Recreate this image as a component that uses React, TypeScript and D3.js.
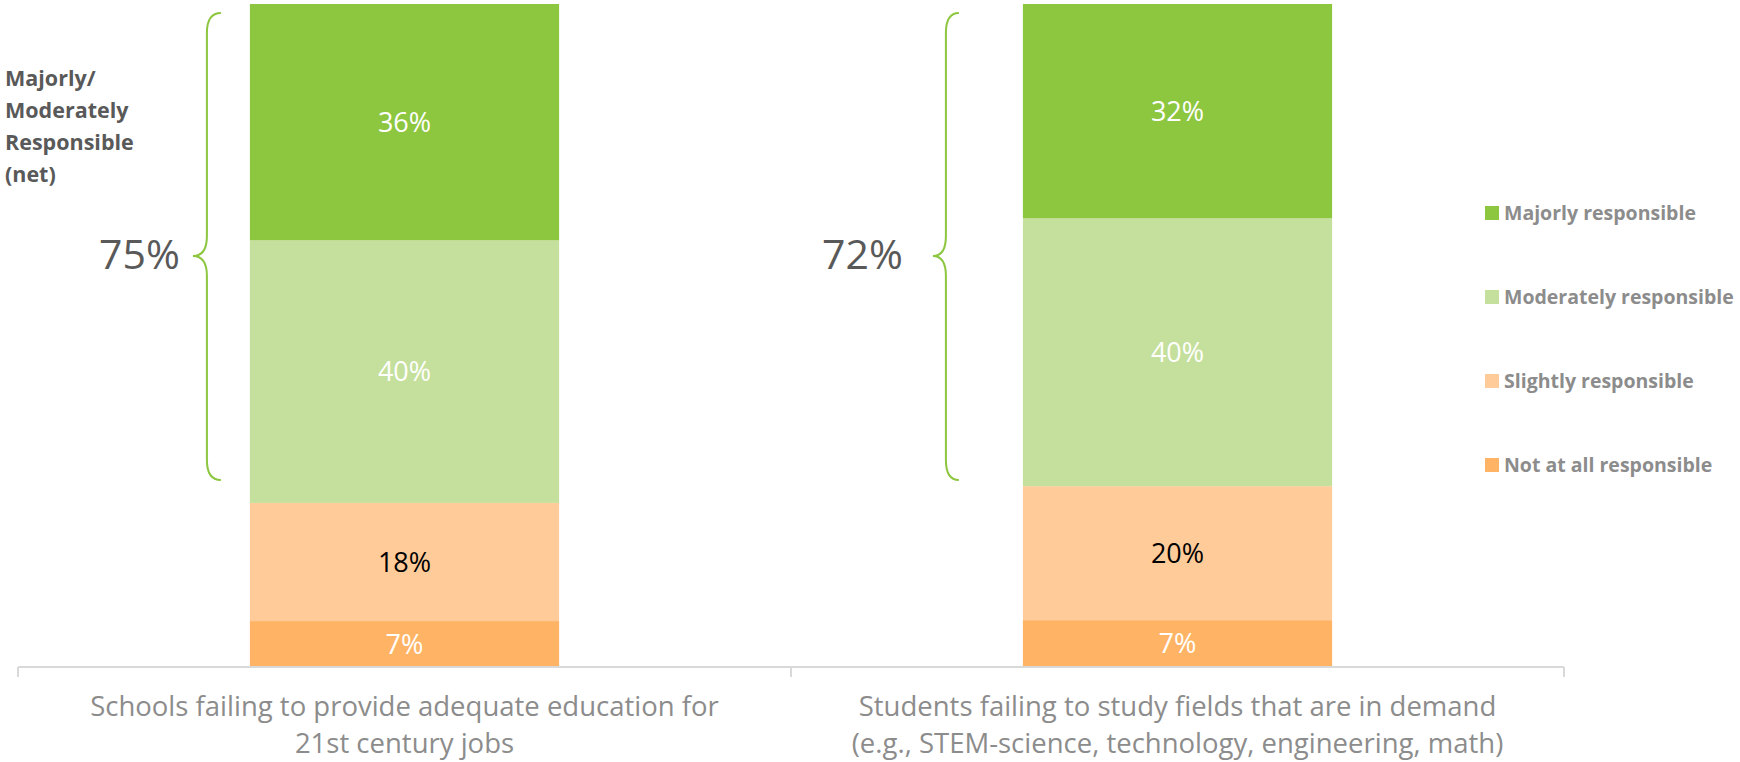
import React, { useEffect, useRef } from "react";
import * as d3 from "d3";

// data
const categories = ["schools", "students"];
const categoryLines = [
  ["Schools failing to provide adequate education for", "21st century jobs"],
  [
    "Students failing to study fields that are in demand",
    "(e.g., STEM-science, technology, engineering, math)",
  ],
];
const seriesKeys = ["notAtAll", "slightly", "moderately", "majorly"];
const seriesNames = [
  "Not at all responsible",
  "Slightly responsible",
  "Moderately responsible",
  "Majorly responsible",
];
const notAtAll = [7, 7];
const slightly = [18, 20];
const moderately = [40, 40];
const majorly = [36, 32];
const netLabels = ["75%", "72%"];
const netTitle = ["Majorly/", "Moderately", "Responsible", "(net)"];

const colors: Record<string, string> = {
  majorly: "#8DC63F",
  moderately: "#C5DF9C",
  slightly: "#FFCC99",
  notAtAll: "#FFB465",
};
const labelColors: Record<string, string> = {
  majorly: "#ffffff",
  moderately: "#ffffff",
  slightly: "#000000",
  notAtAll: "#ffffff",
};

const FONT = "'Open Sans', sans-serif";

const App = () => {
  const ref = useRef<HTMLDivElement>(null);

  useEffect(() => {
    const width = 1740;
    const height = 762;

    d3.select(ref.current).select("svg").remove();

    const svg = d3
      .select(ref.current)
      .append("svg")
      .attr("width", width)
      .attr("height", height)
      .style("position", "absolute")
      .style("left", "0px")
      .style("top", "0px")
      .style("font-family", FONT);

    const table = categories.map((c, i) => ({
      cat: c,
      notAtAll: notAtAll[i],
      slightly: slightly[i],
      moderately: moderately[i],
      majorly: majorly[i],
    }));

    // 100% stacked
    const stacked = d3
      .stack<any>()
      .keys(seriesKeys)
      .offset(d3.stackOffsetExpand)(table);

    const x = d3
      .scaleBand()
      .domain(categories)
      .range([18, 1564])
      .paddingInner(0.6)
      .paddingOuter(0.3);

    const y = d3.scaleLinear().domain([0, 1]).range([667, 4]);

    // bars
    const layer = svg
      .selectAll("g.layer")
      .data(stacked)
      .enter()
      .append("g")
      .attr("class", "layer")
      .attr("fill", (d) => colors[d.key]);

    layer
      .selectAll("rect")
      .data((d) => d)
      .enter()
      .append("rect")
      .attr("x", (d: any) => x(d.data.cat)!)
      .attr("y", (d) => y(d[1]))
      .attr("width", x.bandwidth())
      .attr("height", (d) => y(d[0]) - y(d[1]));

    // value labels
    stacked.forEach((s) => {
      svg
        .append("g")
        .selectAll("text")
        .data(s)
        .enter()
        .append("text")
        .attr("x", (d: any) => x(d.data.cat)! + x.bandwidth() / 2)
        .attr("y", (d) => (y(d[0]) + y(d[1])) / 2)
        .attr("dy", "0.36em")
        .attr("text-anchor", "middle")
        .style("font-size", "27px")
        .style("fill", labelColors[s.key])
        .text((d: any) => `${d.data[s.key]}%`);
    });

    // category axis
    const axis = svg.append("g").attr("transform", "translate(0,667)");
    axis
      .append("line")
      .attr("x1", 18)
      .attr("x2", 1564)
      .attr("y1", 0)
      .attr("y2", 0)
      .style("stroke", "#d9d9d9")
      .style("stroke-width", 2);
    const step = x.step();
    const edges = [0, 1, 2].map((i) => 18 + i * step);
    axis
      .selectAll("line.tick")
      .data(edges)
      .enter()
      .append("line")
      .attr("class", "tick")
      .attr("x1", (d) => d)
      .attr("x2", (d) => d)
      .attr("y1", 0)
      .attr("y2", 10)
      .style("stroke", "#d9d9d9")
      .style("stroke-width", 2);

    categories.forEach((c, i) => {
      svg
        .append("text")
        .attr("x", x(c)! + x.bandwidth() / 2)
        .attr("y", 716)
        .attr("text-anchor", "middle")
        .style("font-size", "27.5px")
        .style("fill", "#8c8c8c")
        .selectAll("tspan")
        .data(categoryLines[i])
        .enter()
        .append("tspan")
        .attr("x", x(c)! + x.bandwidth() / 2)
        .attr("dy", (d, j) => (j === 0 ? 0 : 37))
        .text((d) => d);
    });

    // braces with net labels
    const braces = [
      { end: x(categories[0])! - 29, tip: x(categories[0])! - 57, gap: 13 },
      { end: x(categories[1])! - 64, tip: x(categories[1])! - 90, gap: 30 },
    ];
    const top = 13;
    const bottom = 480;
    const mid = 256;
    const r = 20;
    braces.forEach((b, i) => {
      const xv = (b.end + b.tip) / 2;
      const p = d3.path();
      p.moveTo(b.end, top);
      p.quadraticCurveTo(xv, top, xv, top + r);
      p.lineTo(xv, mid - r);
      p.quadraticCurveTo(xv, mid, b.tip, mid);
      p.quadraticCurveTo(xv, mid, xv, mid + r);
      p.lineTo(xv, bottom - r);
      p.quadraticCurveTo(xv, bottom, b.end, bottom);
      svg
        .append("path")
        .attr("d", p.toString())
        .style("fill", "none")
        .style("stroke", "#8DC63F")
        .style("stroke-width", 2);

      svg
        .append("text")
        .attr("x", b.tip - b.gap)
        .attr("y", mid + 13)
        .attr("text-anchor", "end")
        .style("font-size", "41px")
        .style("fill", "#595959")
        .text(netLabels[i]);
    });

    svg
      .append("text")
      .attr("x", 5)
      .attr("y", 86)
      .style("font-size", "21.5px")
      .style("font-weight", "700")
      .style("fill", "#595959")
      .selectAll("tspan")
      .data(netTitle)
      .enter()
      .append("tspan")
      .attr("x", 5)
      .attr("dy", (d, j) => (j === 0 ? 0 : 32))
      .text((d) => d);

    // legend
    const legendKeys = seriesKeys.slice().reverse();
    const legend = svg
      .selectAll("g.legend")
      .data(legendKeys)
      .enter()
      .append("g")
      .attr("class", "legend")
      .attr("transform", (d, i) => `translate(1485,${213 + i * 84})`);
    legend
      .append("rect")
      .attr("x", 0)
      .attr("y", -7)
      .attr("width", 14)
      .attr("height", 14)
      .style("fill", (d) => colors[d]);
    legend
      .append("text")
      .attr("x", 19)
      .attr("y", 0)
      .attr("dy", "0.36em")
      .style("font-size", "19.5px")
      .style("font-weight", "700")
      .style("fill", "#8c8c8c")
      .text((d) => seriesNames[seriesKeys.indexOf(d)]);
  }, []);

  return <div ref={ref}></div>;
};

export default App;
